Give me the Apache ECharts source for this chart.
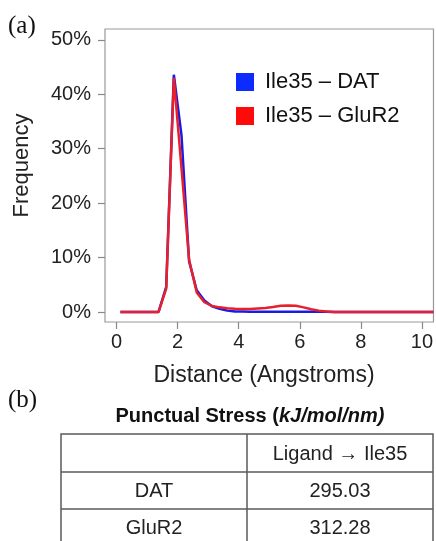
<!DOCTYPE html>
<html>
<head>
<meta charset="utf-8">
<script src="https://cdn.jsdelivr.net/npm/echarts@6/dist/echarts.min.js"></script>
<style>
html,body{margin:0;padding:0;background:#fff;}
#chart{width:436px;height:541px;}
</style>
</head>
<body>
<div id="chart"></div>
<script>
// ---- data ----
var distances = [0.125,0.375,0.625,0.875,1.125,1.375,1.625,1.875,2.125,2.375,2.625,2.875,3.125,3.375,3.625,3.875,4.125,4.375,4.625,4.875,5.125,5.375,5.625,5.875,6.125,6.375,6.625,6.875,7.125,7.375,7.625,7.875,8.125,8.375,8.625,8.875,9.125,9.375,9.625,9.875,10.125,10.375];
var datValues =  [0,0,0,0,0,0,4.6,43.6,32.5,9.3,4.0,2.1,1.05,0.6,0.25,0.1,0.08,0.06,0.05,0.05,0.05,0.05,0.05,0.05,0.05,0.05,0.05,0.03,0,0,0,0,0,0,0,0,0,0,0,0,0,0];
var gluValues =  [0,0,0,0,0,0,4.3,43.0,26.5,9.6,3.6,1.8,1.1,0.85,0.7,0.6,0.55,0.55,0.65,0.75,0.9,1.15,1.2,1.15,0.85,0.5,0.25,0.1,0,0,0,0,0,0,0,0,0,0,0,0,0,0];
var seriesNames = ['Ile35 \u2013 DAT', 'Ile35 \u2013 GluR2'];
var xTicks = [0,2,4,6,8,10];
var yTicks = [0,10,20,30,40,50];
var tableTitle = 'Punctual Stress (';
var tableTitleUnit = 'kJ/mol/nm)';
var tableHeader = 'Ligand \u2192 Ile35';
var tableRows = ['DAT','GluR2'];
var tableValues = ['295.03','312.28'];

function pairs(xs, ys){ return xs.map(function(x,i){ return [x, ys[i]]; }); }

var FONT = 'Liberation Sans, Arial, sans-serif';
var SERIF = 'Liberation Serif, Times New Roman, serif';
var lineCol = '#5a5a5a';

var graphics = [
  {type:'text', left:8, top:14, style:{text:'(a)', font:'25px ' + SERIF, fill:'#111'}},
  {type:'text', left:8, top:388, style:{text:'(b)', font:'25px ' + SERIF, fill:'#111'}},
  {type:'text', x:22, y:165.5, rotation:Math.PI/2, style:{text:'Frequency', x:0, y:0, align:'center', verticalAlign:'middle', font:'22px ' + FONT, fill:'#222'}},
  {type:'text', x:264, y:376, style:{text:'Distance (Angstroms)', x:0, y:0, align:'center', verticalAlign:'middle', font:'23px ' + FONT, fill:'#222'}},
  {type:'text', x:250, y:416, style:{text:'{b|' + tableTitle + '}{bi|' + tableTitleUnit + '}', x:0, y:0, align:'center', verticalAlign:'middle',
     rich:{b:{fontSize:20, fontWeight:'bold', fontFamily:FONT, fill:'#111'}, bi:{fontSize:20, fontWeight:'bold', fontStyle:'italic', fontFamily:FONT, fill:'#111'}}}},
  {type:'rect', shape:{x:61, y:434, width:372, height:130}, style:{fill:'none', stroke:lineCol, lineWidth:1.5}},
  {type:'line', shape:{x1:247, y1:434, x2:247, y2:545}, style:{stroke:lineCol, lineWidth:1.5}},
  {type:'line', shape:{x1:61, y1:472, x2:433, y2:472}, style:{stroke:lineCol, lineWidth:1.5}},
  {type:'line', shape:{x1:61, y1:509, x2:433, y2:509}, style:{stroke:lineCol, lineWidth:1.5}},
  {type:'text', x:340, y:454, style:{text:tableHeader, x:0, y:0, align:'center', verticalAlign:'middle', font:'20px ' + FONT, fill:'#222'}}
];
tableRows.forEach(function(r, i){
  var cy = 491 + i*37;
  graphics.push({type:'text', x:154, y:cy, style:{text:r, x:0, y:0, align:'center', verticalAlign:'middle', font:'20px ' + FONT, fill:'#222'}});
  graphics.push({type:'text', x:340, y:cy, style:{text:tableValues[i], x:0, y:0, align:'center', verticalAlign:'middle', font:'20px ' + FONT, fill:'#222'}});
});

var chart = echarts.init(document.getElementById('chart'), null, {renderer:'canvas'});
chart.setOption({
  animation:false,
  backgroundColor:'#fff',
  grid:{left:105, right:1, top:29, bottom:219, show:true, borderColor:'#999', borderWidth:1.2, containLabel:false},
  legend:{
    orient:'vertical', left:236, top:71, padding:0, itemGap:12,
    icon:'rect', itemWidth:18, itemHeight:18,
    data:seriesNames,
    textStyle:{fontSize:22, fontFamily:FONT, color:'#111', padding:[0,0,0,6]}
  },
  xAxis:{
    type:'value', min:-0.38, max:10.38,
    axisLine:{show:false, onZero:false}, splitLine:{show:false},
    axisTick:{show:true, inside:false, length:7, customValues:xTicks, lineStyle:{color:'#888', width:1.2}},
    axisLabel:{customValues:xTicks, fontSize:20, fontFamily:FONT, color:'#222', margin:10}
  },
  yAxis:{
    type:'value', min:-1.84, max:52,
    axisLine:{show:false, onZero:false}, splitLine:{show:false},
    axisTick:{show:true, inside:false, length:7, customValues:yTicks, lineStyle:{color:'#888', width:1.2}},
    axisLabel:{customValues:yTicks, fontSize:20, fontFamily:FONT, color:'#222', margin:14, formatter:'{value}%'}
  },
  series:[
    {name:seriesNames[0], type:'line', data:pairs(distances, datValues), showSymbol:false, symbol:'none',
     lineStyle:{color:'#1a1ae6', width:2.5}, itemStyle:{color:'#0b2bff'}},
    {name:seriesNames[1], type:'line', data:pairs(distances, gluValues), showSymbol:false, symbol:'none',
     lineStyle:{color:'#e8202a', width:2.5}, itemStyle:{color:'#ff0a0a'}}
  ],
  graphic:graphics
});
</script>
</body>
</html>
